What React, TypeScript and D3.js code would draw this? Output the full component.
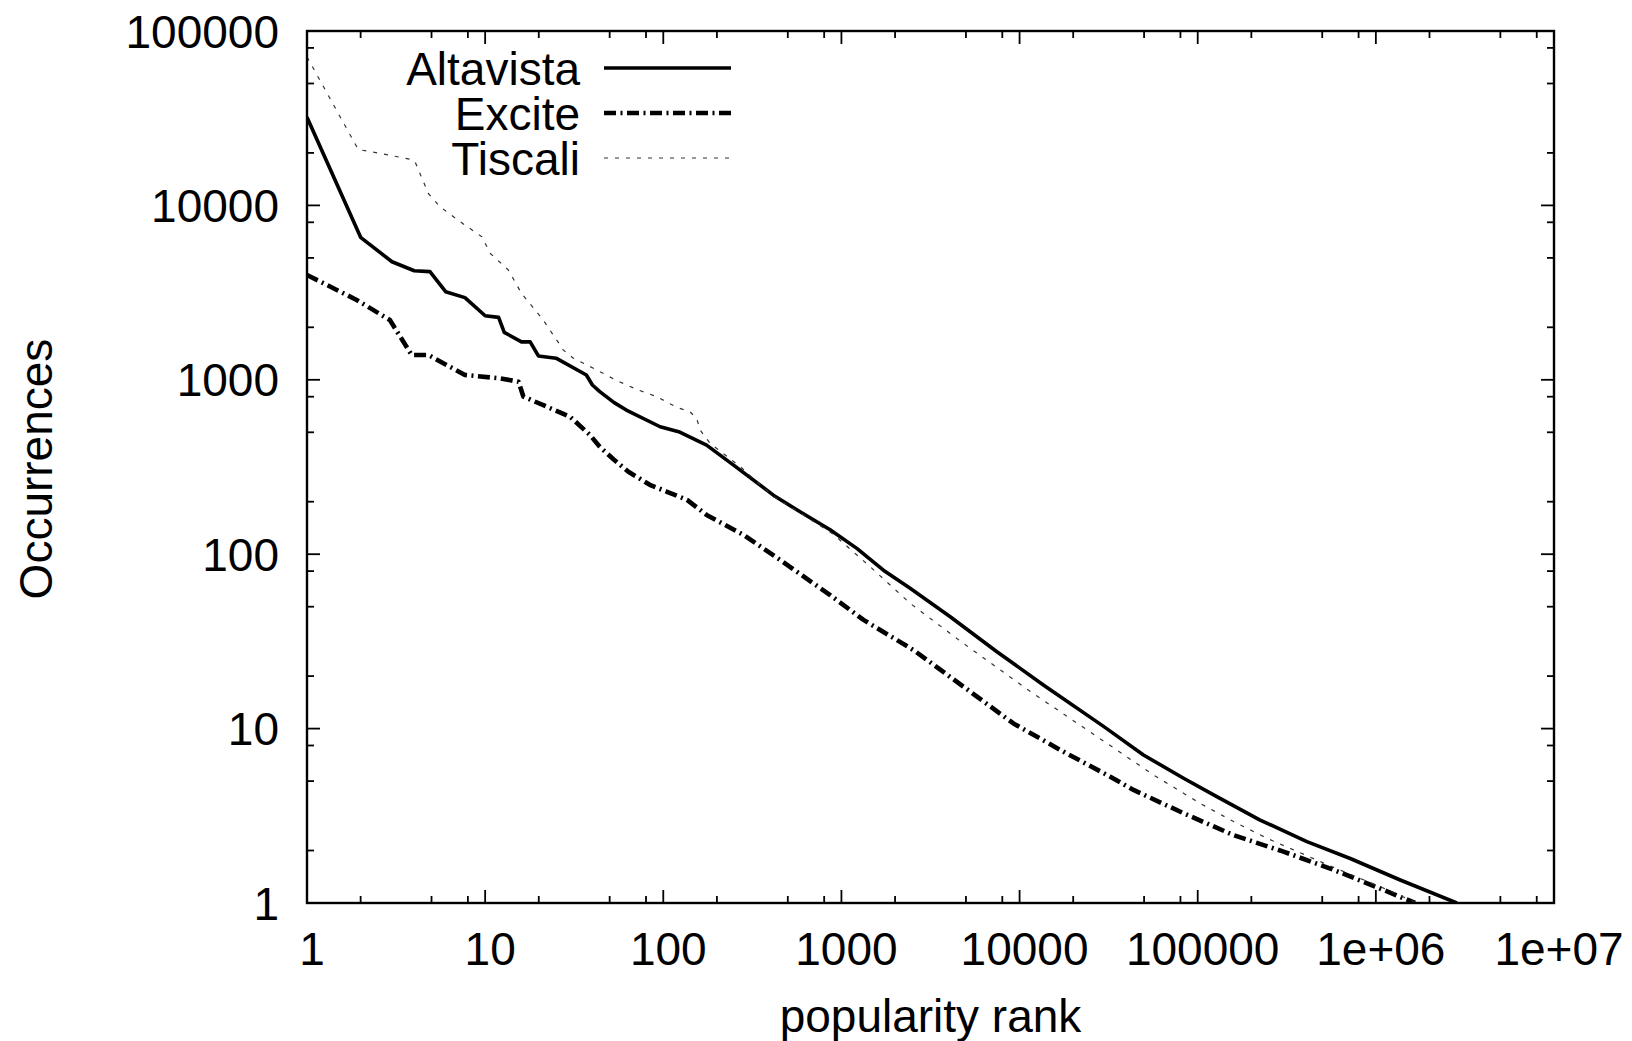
import React from 'react';
import * as d3 from 'd3';

// ---- data ----
const altavistaRank = [1, 2, 3, 4, 4.9, 6, 7.7, 10, 11.9, 12.8, 16, 17.9, 19.9, 25, 37, 40, 44, 53, 62, 96, 122, 175, 248, 415, 586, 864, 1220, 1720, 2430, 4080, 7460, 13600, 29600, 49600, 83300, 128000, 224000, 410000, 718000, 1370000, 2850000];
const altavistaOcc = [32000, 6560, 4750, 4220, 4170, 3200, 2960, 2330, 2280, 1870, 1650, 1650, 1370, 1330, 1066, 934, 855, 740, 671, 538, 504, 422, 324, 218, 175, 138, 108, 81, 63.7, 43.8, 27.6, 17.8, 10.3, 7.06, 5.19, 4.07, 2.99, 2.25, 1.8, 1.355, 1];

const exciteRank = [1, 1.9, 2.92, 3.87, 4.8, 7.7, 12.1, 15.4, 16.4, 22.2, 30, 38.8, 44, 52.5, 63.7, 84, 105, 136, 175, 282, 453, 864, 1330, 2540, 4840, 9240, 17600, 32300, 43600, 83300, 159000, 303000, 579000, 1100000, 1660000];
const exciteOcc = [3990, 2870, 2200, 1387, 1387, 1066, 1020, 975, 800, 701, 614, 482, 413, 350, 297, 250, 228, 205, 168, 129, 92.7, 58.3, 42, 28.2, 17.4, 10.7, 7.38, 5.3, 4.45, 3.27, 2.45, 1.97, 1.55, 1.19, 1];

const tiscaliRank = [1, 1.94, 2.3, 3.79, 4.04, 4.8, 5.58, 7.23, 9.57, 10.7, 13.5, 16, 21.2, 27.5, 31.3, 40.5, 54.8, 71, 92, 119, 141, 154, 161, 183, 270, 415, 600, 902, 1450, 2430, 4840, 11500, 27200, 56500, 103000, 159000, 245000, 579000, 1100000, 1700000];
const tiscaliOcc = [71000, 20900, 20300, 18400, 17800, 11700, 9830, 8070, 6620, 5300, 4260, 3130, 2200, 1480, 1330, 1165, 990, 881, 800, 695, 656, 601, 515, 432, 318, 214, 170, 130, 84.8, 52.3, 30.8, 16.3, 9, 5.42, 3.73, 2.93, 2.35, 1.6, 1.22, 1];

const seriesNames = ['Altavista', 'Excite', 'Tiscali'];

const xTickValues = [1, 10, 100, 1000, 10000, 100000, 1e6, 1e7];
const xTickLabels = ['1', '10', '100', '1000', '10000', '100000', '1e+06', '1e+07'];
const yTickValues = [1, 10, 100, 1000, 10000, 100000];
const yTickLabels = ['1', '10', '100', '1000', '10000', '100000'];
const minorMultipliers = [2, 5, 8];

const xTitle = 'popularity rank';
const yTitle = 'Occurrences';

export default function App() {
  const W = 1632;
  const H = 1041;
  const L = 307, R = 1554, T = 31, B = 903;
  const font = '"Liberation Sans", Arial, Helvetica, sans-serif';
  const fs = 46;

  const x = d3.scaleLog().domain([1, 1e7]).range([L, R]);
  const y = d3.scaleLog().domain([1, 1e5]).range([B, T]);

  const mk = (rank: number[], occ: number[]) => rank.map((r, i) => [r, occ[i]] as [number, number]);
  const series = [
    { name: seriesNames[0], data: mk(altavistaRank, altavistaOcc), width: 3.6, dash: undefined as string | undefined, color: '#000' },
    { name: seriesNames[1], data: mk(exciteRank, exciteOcc), width: 4.6, dash: '12,4.5,2,4.5', color: '#000' },
    { name: seriesNames[2], data: mk(tiscaliRank, tiscaliOcc), width: 1.2, dash: '4,7', color: '#333' },
  ];

  const line = d3.line<[number, number]>().x(d => x(d[0])).y(d => y(d[1]));

  const xMinor: number[] = [];
  for (let e = 0; e < 7; e++) minorMultipliers.forEach(m => xMinor.push(m * Math.pow(10, e)));
  const yMinor: number[] = [];
  for (let e = 0; e < 5; e++) minorMultipliers.forEach(m => yMinor.push(m * Math.pow(10, e)));

  const major = 13, minor = 7;
  const tickStroke = 1.8;

  const legendX = 580;
  const legendLineX1 = 604, legendLineX2 = 731;
  const legendY = [68, 113, 158];

  return (
    <svg width={W} height={H} style={{ position: 'absolute', left: 0, top: 0, background: '#fff' }} fontFamily={font}>
      <rect x={0} y={0} width={W} height={H} fill="#fff" />
      <defs>
        <clipPath id="plotclip">
          <rect x={L} y={T} width={R - L} height={B - T} />
        </clipPath>
      </defs>

      {/* ticks */}
      <g stroke="#000" strokeWidth={tickStroke}>
        {xTickValues.map((v, i) => (
          <g key={'xM' + i}>
            <line x1={x(v)} x2={x(v)} y1={B} y2={B - major} />
            <line x1={x(v)} x2={x(v)} y1={T} y2={T + major} />
          </g>
        ))}
        {xMinor.map((v, i) => (
          <g key={'xm' + i}>
            <line x1={x(v)} x2={x(v)} y1={B} y2={B - minor} />
            <line x1={x(v)} x2={x(v)} y1={T} y2={T + minor} />
          </g>
        ))}
        {yTickValues.map((v, i) => (
          <g key={'yM' + i}>
            <line x1={L} x2={L + major} y1={y(v)} y2={y(v)} />
            <line x1={R} x2={R - major} y1={y(v)} y2={y(v)} />
          </g>
        ))}
        {yMinor.map((v, i) => (
          <g key={'ym' + i}>
            <line x1={L} x2={L + minor} y1={y(v)} y2={y(v)} />
            <line x1={R} x2={R - minor} y1={y(v)} y2={y(v)} />
          </g>
        ))}
      </g>

      {/* series */}
      <g clipPath="url(#plotclip)" fill="none">
        {series.map(s => (
          <path key={s.name} d={line(s.data) || ''} stroke={s.color} strokeWidth={s.width}
            strokeDasharray={s.dash} strokeLinejoin="round" />
        ))}
      </g>

      {/* border */}
      <rect x={L} y={T} width={R - L} height={B - T} fill="none" stroke="#000" strokeWidth={2.4} />

      {/* tick labels */}
      <g fontSize={fs} fill="#000">
        {xTickValues.map((v, i) => (
          <text key={'xl' + i} x={x(v) + 5} y={965} textAnchor="middle">{xTickLabels[i]}</text>
        ))}
        {yTickValues.map((v, i) => (
          <text key={'yl' + i} x={279} y={y(v)} dy="0.36em" textAnchor="end">{yTickLabels[i]}</text>
        ))}
      </g>

      {/* axis titles */}
      <text x={(L + R) / 2} y={1032} fontSize={fs} textAnchor="middle">{xTitle}</text>
      <text transform={`translate(52, 469) rotate(-90)`} fontSize={fs} textAnchor="middle">{yTitle}</text>

      {/* legend */}
      <g fontSize={fs}>
        {series.map((s, i) => (
          <g key={'lg' + i}>
            <text x={legendX} y={legendY[i]} dy="0.36em" textAnchor="end">{s.name}</text>
            <line x1={legendLineX1} x2={legendLineX2} y1={legendY[i]} y2={legendY[i]} stroke={s.color}
              strokeWidth={s.width} strokeDasharray={s.dash} />
          </g>
        ))}
      </g>
    </svg>
  );
}
